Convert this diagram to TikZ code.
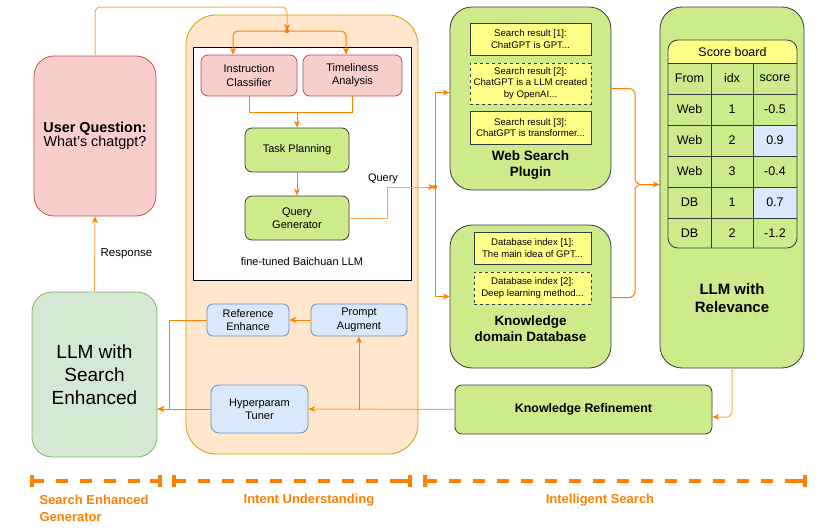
\documentclass[tikz,border=0pt]{standalone}
\usepackage{fontspec}
\setmainfont{Liberation Sans}
\usetikzlibrary{arrows.meta,calc}
\definecolor{pinkf}{HTML}{F8CECC}
\definecolor{pinkd}{HTML}{B85450}
\definecolor{greenf}{HTML}{D5E8D4}
\definecolor{greend}{HTML}{82B366}
\definecolor{orf}{HTML}{FFE6CC}
\definecolor{ord}{HTML}{D79B00}
\definecolor{limef}{HTML}{CDEB8B}
\definecolor{dgray}{HTML}{36393D}
\definecolor{yelf}{HTML}{FFFF88}
\definecolor{bluef}{HTML}{DAE8FC}
\definecolor{blued}{HTML}{6C8EBF}
\definecolor{arrc}{HTML}{FF8000}
\definecolor{arrl}{HTML}{FFA64D}
\newcommand\fsz[2]{\fontsize{#1}{#2}\selectfont}
\begin{document}
\begin{tikzpicture}[x=1pt,y=-1pt,
  box/.style={inner sep=0pt, align=center, line width=0.8pt},
  pinkbox/.style={box, fill=pinkf, draw=pinkd},
  limebox/.style={box, fill=limef, draw=dgray},
  yelbox/.style={box, fill=yelf, draw=dgray, font=\fsz{9.6}{11.2}},
  bluebox/.style={box, fill=bluef, draw=blued, rounded corners=6, font=\fsz{11}{13.3}},
  conn/.style={draw=arrc, line width=1pt, rounded corners=5},
  connl/.style={draw=arrl, line width=1pt, rounded corners=5},
  arr/.style={conn, -{Stealth[length=7pt,width=6pt]}},
  arrlt/.style={connl, -{Stealth[length=7pt,width=6pt,color=arrc]}},
  bracket/.style={draw=arrc, line width=3.5pt},
  blabel/.style={text=arrc, font=\bfseries\fsz{13}{17}},
  cell/.style={inner sep=0pt, font=\fsz{12.5}{15}}
]
\useasboundingbox (0,0) rectangle (828,530);

% ---------- containers ----------
\node[box, fill=orf, draw=ord, rounded corners=30, minimum width=232, minimum height=439] (iu) at (302,234.5) {};
\node[box, fill=white, draw=black, minimum width=218, minimum height=233] (ft) at (302,163.5) {};

\node[pinkbox, rounded corners=20, minimum width=122, minimum height=160] (uq) at (95,136)
  {\fsz{14.4}{17}\textbf{User Question:}\\\fsz{14.4}{17}What's chatgpt?};
\node[box, fill=greenf, draw=greend, rounded corners=20, minimum width=125, minimum height=165, font=\fsz{19}{23}] (se) at (94.5,374.5)
  {LLM with\\Search\\Enhanced};

% ---------- intent understanding ----------
\node[pinkbox, rounded corners=7, minimum width=96, minimum height=41, font=\fsz{11}{13.3}] (ic) at (249,75.5) {Instruction\\Classifier};
\node[pinkbox, rounded corners=7, minimum width=99, minimum height=41, font=\fsz{11}{13.3}] (ta) at (352.5,75.5) {Timeliness\\Analysis};
\node[limebox, rounded corners=7, minimum width=104, minimum height=44, font=\fsz{11}{13.3}] (tp) at (297,150) {Task Planning};
\node[limebox, rounded corners=7, minimum width=104, minimum height=44, font=\fsz{11}{13.3}] (qg) at (297,218) {Query\\Generator};
\node[font=\fsz{11}{13.3}] (ftl) at (302,262) {fine-tuned Baichuan LLM};
\node[font=\fsz{11}{13.3}] (ql) at (383,179) {Query};

\node[bluebox, minimum width=82, minimum height=32] (re) at (248,320) {Reference\\Enhance};
\node[bluebox, minimum width=96, minimum height=32] (pa) at (359,320) {Prompt\\Augment};
\node[bluebox, rounded corners=8, minimum width=97, minimum height=48] (ht) at (259.5,409) {Hyperparam\\Tuner};

% ---------- intelligent search ----------
\node[limebox, rounded corners=22, minimum width=161, minimum height=183] (ws) at (530.5,98.5) {};
\node[yelbox, minimum width=121, minimum height=32] (sr1) at (530.5,39) {Search result [1]:\\ChatGPT is GPT...};
\node[yelbox, dashed, minimum width=121, minimum height=41] (sr2) at (530.5,83.5) {Search result [2]:\\ChatGPT is a LLM created\\by OpenAI...};
\node[yelbox, minimum width=121, minimum height=33] (sr3) at (530.5,127.5) {Search result [3]:\\ChatGPT is transformer...};
\node[font=\bfseries\fsz{13.5}{16}, align=center] (wsl) at (530.5,165) {Web Search\\Plugin};

\node[limebox, rounded corners=22, minimum width=161, minimum height=143] (kb) at (530.5,296.5) {};
\node[yelbox, minimum width=117, minimum height=32] (db1) at (532.5,248) {Database index [1]:\\The main idea of GPT...};
\node[yelbox, dashed, minimum width=117, minimum height=32] (db2) at (532.5,288) {Database index [2]:\\Deep learning method...};
\node[font=\bfseries\fsz{13.5}{16}, align=center] (kbl) at (530.5,329) {Knowledge\\domain Database};

\node[limebox, rounded corners=22, minimum width=144, minimum height=361] (rel) at (732,187.5) {};
\node[font=\bfseries\fsz{15}{18}, align=center] (rell) at (732,298) {LLM with\\Relevance};

\node[limebox, rounded corners=7, minimum width=257, minimum height=49, font=\bfseries\fsz{12.4}{15}] (kr) at (583.5,409.5) {Knowledge Refinement};

% ---------- score board ----------
\begin{scope}
  \clip[rounded corners=10] (668,40) rectangle (797,248);
  \fill[limef] (668,63) rectangle (797,248);
  \fill[yelf] (668,40) rectangle (797,63);
  \fill[bluef] (753,125) rectangle (797,156);
  \fill[bluef] (753,187) rectangle (797,218);
\end{scope}
\foreach \yy in {63,94,125,156,187,218} \draw[dgray, line width=0.8pt] (668,\yy) -- (797,\yy);
\foreach \xx in {711,753} \draw[dgray, line width=0.8pt] (\xx,63) -- (\xx,248);
\draw[dgray, line width=0.8pt, rounded corners=10] (668,40) rectangle (797,248);
\node[cell] (sbh) at (732.5,52) {Score board};
\node[cell] (c00) at (689.5,78.5) {From};
\node[cell] (c01) at (732,78.5) {idx};
\node[cell] (c02) at (775,78.5) {score};
\node[cell] (c10) at (689.5,109.5) {Web};
\node[cell] (c11) at (732,109.5) {1};
\node[cell] (c12) at (775,109.5) {-0.5};
\node[cell] (c20) at (689.5,140.5) {Web};
\node[cell] (c21) at (732,140.5) {2};
\node[cell] (c22) at (775,140.5) {0.9};
\node[cell] (c30) at (689.5,171.5) {Web};
\node[cell] (c31) at (732,171.5) {3};
\node[cell] (c32) at (775,171.5) {-0.4};
\node[cell] (c40) at (689.5,202.5) {DB};
\node[cell] (c41) at (732,202.5) {1};
\node[cell] (c42) at (775,202.5) {0.7};
\node[cell] (c50) at (689.5,233) {DB};
\node[cell] (c51) at (732,233) {2};
\node[cell] (c52) at (775,233) {-1.2};

% ---------- connectors ----------
\coordinate (junc) at (287,31);
\draw[arrlt] (uq.north) |- (287,7) -- (junc);
\draw[arr] (junc) -| ([xshift=-16]ic.north);
\draw[arr] (junc) -| ([xshift=-6.5]ta.north);
\fill[arrc] (junc) circle (2.2);

\coordinate (mrg) at (297,112);
\draw[conn, rounded corners=0] (ic.south) |- (mrg);
\draw[conn, rounded corners=0] (ta.south) |- (mrg);
\draw[arr] (mrg) -- (tp.north);
\draw[arr] (tp.south) -- (qg.north);

\coordinate (qj) at (435,187);
\draw[connl, rounded corners=0] (qg.east) -| (387,187) -- (qj);
\draw[-{Stealth[length=7pt,width=6pt]}, arrc, line width=1pt] (425,187) -- (qj);
\fill[arrc] (qj) circle (2.2);
\draw[arr, rounded corners=0] (qj) |- ([yshift=6]ws.west);
\draw[arr, rounded corners=0] (qj) |- (kb.west);

\coordinate (rj) at (635,184.5);
\draw[arr, rounded corners=6] ([yshift=10]ws.east) -| (rj) -- ([yshift=3]rel.west);
\draw[conn, rounded corners=6] ([yshift=-1]kb.east) -| (rj) -- ([yshift=3]rel.west);

\draw[arrlt] (rel.south) |- ([yshift=-7.5]kr.east);

\coordinate (paj) at (pa.south |- kr.west);
\draw[arrlt, rounded corners=0] (kr.west) -- (ht.east);
\draw[arr, rounded corners=0] (paj) -- (pa.south);
\draw[arr] (pa.west) -- (re.east);

\coordinate (sein) at ([yshift=-34.5]se.east);
\draw[arr, rounded corners=0] (re.west) -| (169,409) -- (sein);
\draw[arr] (ht.west) -- (sein);

\draw[arrlt] (se.north) -- node[pos=0.5, right=2pt, font=\fsz{11.5}{13.3}, text=black] (resp) {Response} (uq.south);

% ---------- phase brackets ----------
\foreach \a/\b in {32/160, 174/410, 425/805}{
  \draw[bracket, line cap=butt] (\a,475) -- (\a,487);
  \draw[bracket, line cap=butt] (\b,475) -- (\b,487);
  \draw[bracket, line cap=butt, dash pattern=on 12pt off 12pt] (\a,481) -- (\b,481);
  \draw[bracket, line cap=butt] (\b-10,481) -- (\b,481);
}
\node[blabel, align=left, anchor=north west] (lab1) at (36,492) {Search Enhanced\\Generator};
\node[blabel] (lab2) at (309,500) {Intent Understanding};
\node[blabel] (lab3) at (600,500) {Intelligent Search};
\end{tikzpicture}
\end{document}
